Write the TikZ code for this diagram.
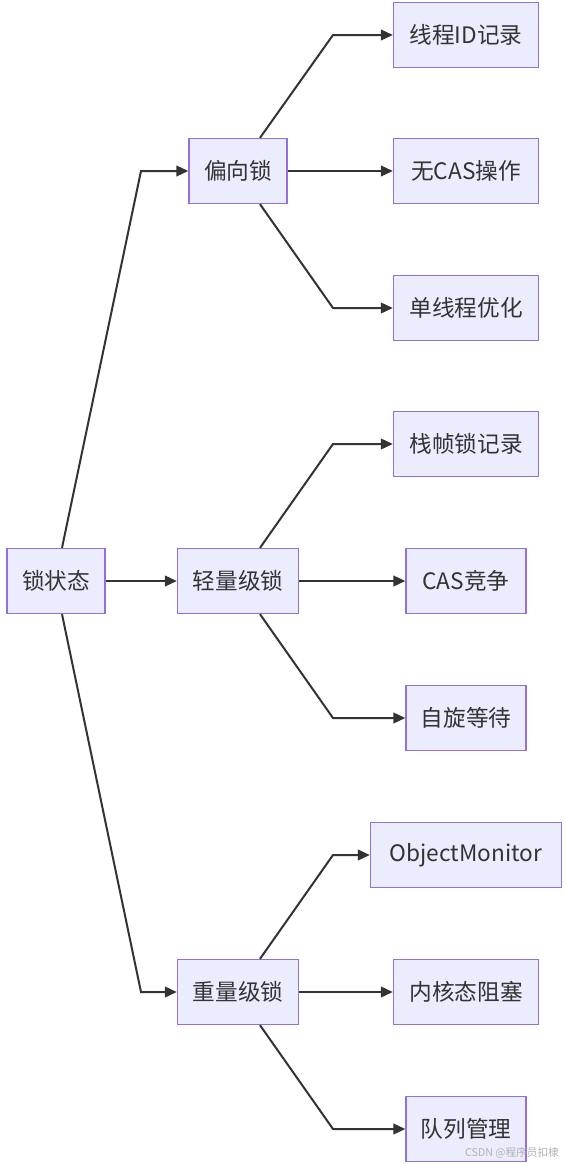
\documentclass[tikz,border=0pt]{standalone}
\usepackage{fontspec}
\setmainfont{Noto Sans CJK SC}
\definecolor{mmfill}{HTML}{ECECFF}
\definecolor{mmedge}{HTML}{9370DB}
\definecolor{mmline}{HTML}{333333}
\usetikzlibrary{arrows.meta}

\begin{document}
\begin{tikzpicture}[x=0.75pt,y=-0.75pt,
  box/.style={draw=mmedge,line width=1pt,fill=mmfill,text=mmline,align=center,
    font=\fontsize{17pt}{19pt}\selectfont,inner sep=0pt,minimum height=48.75pt},
  arr/.style={-{Triangle[length=9pt,width=8pt]},line width=1.5pt,mmline}]
  \useasboundingbox[fill=white] (0,0) rectangle (566,1164);
  \node[box,minimum width=73.5pt] (state) at (56,581) {锁状态};
  \node[box,minimum width=73.5pt] (bias) at (238,171) {偏向锁};
  \node[box,minimum width=90.75pt] (light) at (238,581) {轻量级锁};
  \node[box,minimum width=90.75pt] (heavy) at (238,992) {重量级锁};
  \node[box,minimum width=108.75pt] (thread) at (466,35) {线程ID记录};
  \node[box,minimum width=108.75pt] (nocas) at (466,171) {无CAS操作};
  \node[box,minimum width=108.75pt] (single) at (466,308) {单线程优化};
  \node[box,minimum width=108.75pt] (frame) at (466,444) {栈帧锁记录};
  \node[box,minimum width=90pt] (cas) at (466,581) {CAS竞争};
  \node[box,minimum width=90pt] (spin) at (466,718) {自旋等待};
  \node[box,minimum width=143.25pt] (monitor) at (466,855) {ObjectMonitor};
  \node[box,minimum width=108.75pt] (kernel) at (466,992) {内核态阻塞};
  \node[box,minimum width=90pt] (queue) at (466,1129) {队列管理};
  \node[font=\fontsize{8pt}{9pt}\selectfont,text=black!30] (mark) at (512,1153) {CSDN @程序员扣棣};
  % first level
  \draw[arr] ([xshift=4.5pt]state.north) -- (141,0 |- bias.west) -- (bias.west);
  \draw[arr] (state.east) -- (light.west);
  \draw[arr] ([xshift=4.5pt]state.south) -- (141,0 |- heavy.west) -- (heavy.west);
  % second level
  \draw[arr] ([xshift=16.5pt]bias.north) -- (333,0 |- thread.west) -- (thread.west);
  \draw[arr] (bias.east) -- (nocas.west);
  \draw[arr] ([xshift=16.5pt]bias.south) -- (333,0 |- single.west) -- (single.west);
  \draw[arr] ([xshift=16.5pt]light.north) -- (333,0 |- frame.west) -- (frame.west);
  \draw[arr] (light.east) -- (cas.west);
  \draw[arr] ([xshift=16.5pt]light.south) -- (333,0 |- spin.west) -- (spin.west);
  \draw[arr] ([xshift=16.5pt]heavy.north) -- (333,0 |- monitor.west) -- (monitor.west);
  \draw[arr] (heavy.east) -- (kernel.west);
  \draw[arr] ([xshift=16.5pt]heavy.south) -- (333,0 |- queue.west) -- (queue.west);
\end{tikzpicture}
\end{document}
